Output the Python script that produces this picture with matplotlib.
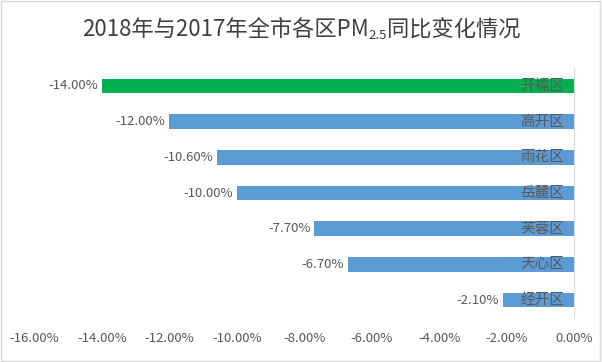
import matplotlib
matplotlib.use("Agg")
import matplotlib.pyplot as plt
from matplotlib.patches import Rectangle
from matplotlib.ticker import FuncFormatter
from matplotlib.transforms import offset_copy

plt.rcParams['font.family'] = ['Noto Sans CJK SC', 'DejaVu Sans']

# data
districts = ["开福区", "高开区", "雨花区", "岳麓区", "芙蓉区", "天心区", "经开区"]
change_pct = [-14.0, -12.0, -10.6, -10.0, -7.7, -6.7, -2.1]
x_ticks = [-16, -14, -12, -10, -8, -6, -4, -2, 0]
title_parts = ["2018年与2017年全市各区PM", "2.5", "同比变化情况"]

blue = "#5B9BD5"
green = "#00B050"
text_gray = "#595959"

fig = plt.figure(figsize=(6.02, 3.62), dpi=100)
fig.patches.append(Rectangle((0.002, 0.003), 0.995, 0.993, transform=fig.transFigure,
                             fill=False, edgecolor="#D9D9D9", linewidth=1))
ax = fig.add_axes([0.0575, 0.1215, 0.896, 0.6905])

pos = list(range(len(districts)))
colors = [green if i == 0 else blue for i in pos]
ax.barh(pos, change_pct, height=0.41, color=colors)
ax.set_xlim(-16, 0)
ax.set_ylim(len(districts) - 0.5, -0.5)

for i in pos:
    v = change_pct[i]
    t = offset_copy(ax.transData, fig=fig, x=-4, y=0, units="dots")
    ax.text(v, i, f"{v:.2f}%", transform=t, ha="right", va="center",
            fontsize=9.5, color=text_gray)
    t2 = offset_copy(ax.transData, fig=fig, x=-10, y=0, units="dots")
    ax.text(0, i, districts[i], transform=t2, ha="right", va="center",
            fontsize=10.5, color=text_gray)

ax.set_xticks(x_ticks)
ax.xaxis.set_major_formatter(FuncFormatter(lambda v, p: f"{v:.2f}%"))
ax.tick_params(axis="x", length=0, pad=10, labelsize=9.5, labelcolor=text_gray)
ax.set_yticks([])
for side in ["top", "bottom", "left"]:
    ax.spines[side].set_visible(False)
ax.spines["right"].set_color("#D9D9D9")

# title with subscript, placed piece by piece and centred
fig.canvas.draw()
renderer = fig.canvas.get_renderer()
base_y = 0.9
t1 = fig.text(0, base_y, title_parts[0], fontsize=16, color="#404040", va="baseline")
t2 = fig.text(0, base_y - 0.009, title_parts[1], fontsize=9.5, color="#404040", va="baseline")
t3 = fig.text(0, base_y, title_parts[2], fontsize=16, color="#404040", va="baseline")
w1 = t1.get_window_extent(renderer).width
w2 = t2.get_window_extent(renderer).width
w3 = t3.get_window_extent(renderer).width
fw = fig.bbox.width
x0 = (fw - (w1 + w2 + w3)) / 2 / fw
t1.set_x(x0)
t2.set_x(x0 + w1 / fw)
t3.set_x(x0 + (w1 + w2) / fw)

fig.savefig("out.png", dpi=100)
